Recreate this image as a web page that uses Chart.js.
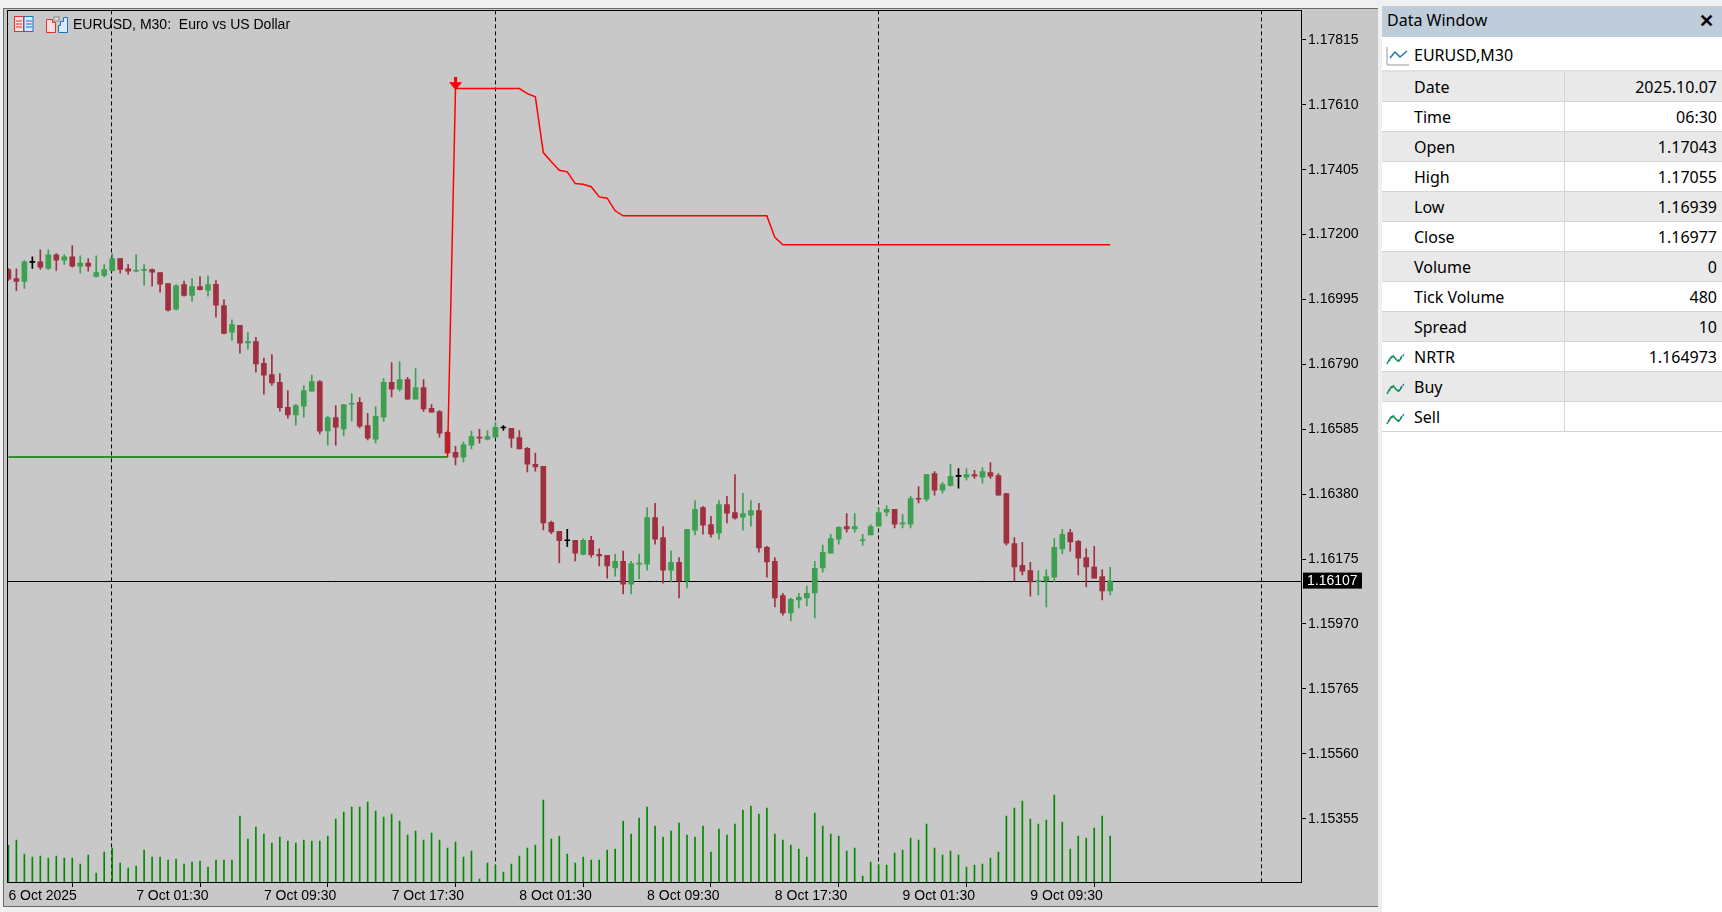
<!DOCTYPE html>
<html><head><meta charset="utf-8">
<script src="https://cdn.jsdelivr.net/npm/chart.js@4"></script>
<style>
html,body{margin:0;padding:0;background:#f0f0f0;width:1722px;height:912px;overflow:hidden;font-family:"Liberation Sans",Arial,sans-serif}
#c{position:absolute;left:0;top:0}
#title{position:absolute;left:73px;top:16px;font-size:14px;color:#000;white-space:pre}
.ic{position:absolute;top:16px;height:16px}
#dw{position:absolute;left:1382px;top:6px;width:340px;height:906px;background:#fff;font-family:"Noto Sans","Open Sans",sans-serif;font-size:16px;color:#000}
#dwh{height:31px;background:#bfcddb;line-height:29px;padding-left:5px;position:relative}
#dwh span{position:absolute;right:8px;top:0;font-weight:bold;font-size:18px}
.row{height:29px;line-height:31px;border-bottom:1px solid #d4d4d4;position:relative;background:#fff}
.row.g{background:#e9e9e9}
.row .l{position:absolute;left:32px}
.row .v{position:absolute;right:5px}
.row .d{position:absolute;left:182px;top:0;width:1px;height:30px;background:#d4d4d4}
.row svg{position:absolute;left:4px;top:7px}
</style></head><body>
<canvas id="c" width="1378" height="912"></canvas>
<div class="ic" style="left:14px;width:19px">
<svg width="20" height="17"><rect x="0.5" y="0.5" width="9" height="15" fill="#fbdede" stroke="#e03030"/><rect x="10" y="0.5" width="9" height="15" fill="#dbe8f8" stroke="#2070c0"/><line x1="2" y1="5" x2="8" y2="5" stroke="#e03030"/><line x1="2" y1="8" x2="8" y2="8" stroke="#e03030"/><line x1="2" y1="11" x2="8" y2="11" stroke="#e03030"/><line x1="12" y1="5" x2="18" y2="5" stroke="#2070c0"/><line x1="12" y1="8" x2="18" y2="8" stroke="#2070c0"/><line x1="12" y1="11" x2="18" y2="11" stroke="#2070c0"/></svg></div>
<div class="ic" style="left:46px;width:22px">
<svg width="23" height="17"><path d="M0.5 3.5 H6.5 V6.5 H9.5 V16.5 H0.5 Z" fill="#fbdede" stroke="#e03030"/><rect x="8" y="1" width="5" height="4" fill="#ddd" stroke="#888"/><path d="M14.5 5.5 H17.5 V1.5 H21.5 V16.5 H12.5 V9.5 H14.5 Z" fill="#dbe8f8" stroke="#2070c0"/></svg></div>
<div id="title">EURUSD, M30:  Euro vs US Dollar</div>
<div id="dw">
<div id="dwh">Data Window<span>✕</span></div>
<div class="row" style="border-bottom:2px solid #e0e0e0;height:31px;margin-top:2px;line-height:33px"><svg width="24" height="20"><polyline points="1,1 1,19 23,19" fill="none" stroke="#999"/><polyline points="4,12 9,6 14,11 21,5" fill="none" stroke="#2070c0" stroke-width="1.5"/></svg><span class="l" style="left:32px">EURUSD,M30</span></div>
<div id="rows"></div>
</div>
<script>
// ---------- data ----------
const xTickIndex = [0,16,32,48,64,80,96,112,128];
const xTickLabels = ["6 Oct 2025","7 Oct 01:30","7 Oct 09:30","7 Oct 17:30","8 Oct 01:30","8 Oct 09:30","8 Oct 17:30","9 Oct 01:30","9 Oct 09:30"];
const yTickValues = [1.17815,1.17610,1.17405,1.17200,1.16995,1.16790,1.16585,1.16380,1.16175,1.15970,1.15765,1.15560,1.15355];
const daySeparators = [12.9,60.9,108.9,156.9];
const bidPrice = 1.16107;

const open = [1.17089,1.17061,1.17052,1.17112,1.17114,1.17093,1.17136,1.17119,1.17130,1.17100,1.17110,1.17068,1.17071,1.17086,1.17124,1.17092,1.17084,1.17087,1.17089,1.17080,1.17045,1.16964,1.17042,1.17008,1.17036,1.17024,1.17043,1.16976,1.16892,1.16913,1.16858,1.16862,1.16793,1.16758,1.16733,1.16654,1.16630,1.16658,1.16705,1.16736,1.16580,1.16622,1.16586,1.16664,1.16670,1.16597,1.16554,1.16623,1.16733,1.16712,1.16742,1.16680,1.16717,1.16651,1.16641,1.16575,1.16512,1.16497,1.16535,1.16559,1.16554,1.16560,1.16589,1.16588,1.16559,1.16525,1.16474,1.16468,1.16291,1.16263,1.16233,1.16234,1.16190,1.16234,1.16190,1.16187,1.16147,1.16168,1.16096,1.16159,1.16159,1.16306,1.16243,1.16140,1.16165,1.16107,1.16266,1.16338,1.16284,1.16257,1.16347,1.16322,1.16307,1.16314,1.16328,1.16212,1.16168,1.16060,1.16005,1.16046,1.16052,1.16068,1.16147,1.16194,1.16238,1.16278,1.16270,1.16233,1.16251,1.16279,1.16323,1.16332,1.16286,1.16285,1.16366,1.16364,1.16445,1.16393,1.16408,1.16436,1.16434,1.16442,1.16434,1.16448,1.16439,1.16382,1.16224,1.16155,1.16139,1.16104,1.16106,1.16118,1.16207,1.16259,1.16231,1.16180,1.16150,1.16120,1.16074];
const high = [1.17093,1.17092,1.17118,1.17130,1.17152,1.17152,1.17140,1.17137,1.17165,1.17133,1.17124,1.17133,1.17105,1.17139,1.17124,1.17105,1.17137,1.17105,1.17092,1.17080,1.17045,1.17042,1.17053,1.17061,1.17067,1.17070,1.17055,1.16995,1.16931,1.16913,1.16890,1.16875,1.16810,1.16821,1.16761,1.16707,1.16664,1.16723,1.16756,1.16739,1.16627,1.16660,1.16663,1.16698,1.16685,1.16635,1.16657,1.16745,1.16796,1.16799,1.16749,1.16777,1.16742,1.16663,1.16644,1.16579,1.16531,1.16545,1.16579,1.16585,1.16581,1.16607,1.16597,1.16588,1.16581,1.16528,1.16510,1.16468,1.16295,1.16263,1.16269,1.16234,1.16239,1.16247,1.16207,1.16187,1.16191,1.16200,1.16168,1.16191,1.16338,1.16351,1.16278,1.16200,1.16180,1.16269,1.16360,1.16341,1.16310,1.16360,1.16373,1.16442,1.16383,1.16360,1.16351,1.16215,1.16180,1.16067,1.16052,1.16067,1.16090,1.16168,1.16219,1.16253,1.16278,1.16319,1.16319,1.16253,1.16284,1.16336,1.16344,1.16332,1.16316,1.16373,1.16404,1.16442,1.16451,1.16417,1.16474,1.16461,1.16461,1.16455,1.16464,1.16480,1.16445,1.16382,1.16243,1.16228,1.16165,1.16139,1.16142,1.16240,1.16269,1.16269,1.16234,1.16207,1.16215,1.16142,1.16149];
const low = [1.17055,1.17023,1.17030,1.17093,1.17090,1.17090,1.17087,1.17106,1.17097,1.17078,1.17084,1.17065,1.17066,1.17084,1.17078,1.17075,1.17082,1.17040,1.17037,1.17018,1.16958,1.16961,1.17005,1.16989,1.17024,1.17005,1.16939,1.16886,1.16866,1.16825,1.16838,1.16765,1.16696,1.16724,1.16642,1.16620,1.16598,1.16623,1.16705,1.16570,1.16535,1.16535,1.16564,1.16611,1.16589,1.16551,1.16541,1.16610,1.16687,1.16705,1.16680,1.16680,1.16641,1.16639,1.16560,1.16507,1.16472,1.16482,1.16523,1.16541,1.16551,1.16559,1.16581,1.16528,1.16523,1.16450,1.16453,1.16267,1.16255,1.16163,1.16214,1.16169,1.16188,1.16181,1.16153,1.16115,1.16121,1.16065,1.16065,1.16112,1.16140,1.16222,1.16099,1.16103,1.16052,1.16084,1.16251,1.16254,1.16244,1.16238,1.16289,1.16301,1.16266,1.16279,1.16197,1.16118,1.16024,1.15998,1.15980,1.16021,1.16027,1.15989,1.16134,1.16194,1.16222,1.16260,1.16260,1.16219,1.16251,1.16279,1.16311,1.16273,1.16273,1.16273,1.16352,1.16358,1.16377,1.16383,1.16405,1.16399,1.16424,1.16430,1.16415,1.16430,1.16377,1.16219,1.16107,1.16125,1.16058,1.16062,1.16024,1.16103,1.16191,1.16200,1.16125,1.16087,1.16115,1.16046,1.16062];
const close = [1.17059,1.17052,1.17114,1.17112,1.17097,1.17136,1.17119,1.17130,1.17100,1.17110,1.17100,1.17080,1.17089,1.17124,1.17090,1.17084,1.17086,1.17088,1.17081,1.17043,1.16961,1.17038,1.17008,1.17036,1.17026,1.17042,1.16977,1.16888,1.16916,1.16857,1.16862,1.16791,1.16756,1.16731,1.16653,1.16630,1.16660,1.16707,1.16736,1.16579,1.16622,1.16592,1.16663,1.16667,1.16595,1.16557,1.16626,1.16733,1.16712,1.16742,1.16680,1.16717,1.16649,1.16639,1.16573,1.16510,1.16497,1.16537,1.16562,1.16557,1.16562,1.16591,1.16589,1.16557,1.16523,1.16475,1.16466,1.16289,1.16261,1.16233,1.16233,1.16194,1.16234,1.16188,1.16185,1.16153,1.16168,1.16096,1.16161,1.16160,1.16306,1.16238,1.16140,1.16165,1.16107,1.16269,1.16332,1.16282,1.16254,1.16347,1.16320,1.16304,1.16319,1.16328,1.16210,1.16166,1.16052,1.16005,1.16048,1.16054,1.16067,1.16146,1.16196,1.16240,1.16275,1.16270,1.16278,1.16234,1.16278,1.16322,1.16332,1.16285,1.16289,1.16366,1.16364,1.16442,1.16393,1.16410,1.16436,1.16436,1.16442,1.16437,1.16451,1.16437,1.16377,1.16225,1.16150,1.16137,1.16103,1.16106,1.16120,1.16212,1.16253,1.16229,1.16178,1.16150,1.16115,1.16074,1.16106];
const tickVolume = [800,916,611,545,567,523,567,523,523,393,589,196,654,742,414,305,349,698,545,545,480,502,393,436,458,327,480,480,480,1439,938,1200,1047,851,981,894,851,916,894,894,1003,1374,1527,1636,1636,1745,1549,1418,1483,1330,1025,1112,916,1069,916,742,872,545,676,65,414,364,218,393,567,742,807,1788,938,1003,611,414,545,480,480,698,720,1330,1047,1396,1636,1221,981,1112,1287,1025,981,1221,654,1156,1025,1265,1570,1658,1483,1614,1047,916,807,720,545,1505,1221,1047,1003,676,742,131,436,371,371,632,698,960,916,1265,742,589,676,589,327,371,393,523,654,1439,1614,1767,1374,1265,1352,1897,1309,720,1003,960,1178,1439,1003];
const nrtrBuy = [1.16497,1.16497,1.16497,1.16497,1.16497,1.16497,1.16497,1.16497,1.16497,1.16497,1.16497,1.16497,1.16497,1.16497,1.16497,1.16497,1.16497,1.16497,1.16497,1.16497,1.16497,1.16497,1.16497,1.16497,1.16497,1.16497,1.16497,1.16497,1.16497,1.16497,1.16497,1.16497,1.16497,1.16497,1.16497,1.16497,1.16497,1.16497,1.16497,1.16497,1.16497,1.16497,1.16497,1.16497,1.16497,1.16497,1.16497,1.16497,1.16497,1.16497,1.16497,1.16497,1.16497,1.16497,1.16497,1.16497];
const nrtrSellStart = 55;
const nrtrSell = [1.16497,1.17661,1.17661,1.17661,1.17661,1.17661,1.17661,1.17661,1.17661,1.17661,1.17645,1.17635,1.17459,1.17430,1.17403,1.17398,1.17361,1.17359,1.17351,1.17319,1.17315,1.17275,1.17259,1.17259,1.17259,1.17259,1.17259,1.17259,1.17259,1.17259,1.17259,1.17259,1.17259,1.17259,1.17259,1.17259,1.17259,1.17259,1.17259,1.17259,1.17259,1.17191,1.17168,1.17168,1.17168,1.17168,1.17168,1.17168,1.17168,1.17168,1.17168,1.17168,1.17168,1.17168,1.17168,1.17168,1.17168,1.17168,1.17168,1.17168,1.17168,1.17168,1.17168,1.17168,1.17168,1.17168,1.17168,1.17168,1.17168,1.17168,1.17168,1.17168,1.17168,1.17168,1.17168,1.17168,1.17168,1.17168,1.17168,1.17168,1.17168,1.17168,1.17168,1.17168];
const sellSignalBar = [56];
const sellSignalPrice = [1.17675];

const dwLabels = ["Date","Time","Open","High","Low","Close","Volume","Tick Volume","Spread","NRTR","Buy","Sell"];
const dwValues = ["2025.10.07","06:30","1.17043","1.17055","1.16939","1.16977","0","480","10","1.164973","",""];

// ---------- data window ----------
const rowsEl=document.getElementById('rows');
const ind='<svg width="22" height="18"><path d="M1 15 C4 9,6 5,9 9 S13 14,16 7" fill="none" stroke="#1a9a3a" stroke-width="1.6"/><path d="M3 12 L8 6 M12 12 L19 4" fill="none" stroke="#2070c0" stroke-width="1.3" stroke-dasharray="2 1.5"/></svg>';
dwLabels.forEach((l,k)=>{
  const d=document.createElement('div');
  d.className='row'+(k%2===0?' g':'');
  d.innerHTML=(k>=9?ind:'')+'<span class="l">'+l+'</span><div class="d"></div><span class="v">'+dwValues[k]+'</span>';
  rowsEl.appendChild(d);
});

// ---------- chart ----------
const UP='#3ca050', DN='#a0303f', DOJI='#000000';
const idx=open.map((_,i)=>i);
const col=i=> close[i]>open[i]?UP:(close[i]<open[i]?DN:DOJI);

const arrow=document.createElement('canvas');arrow.width=13;arrow.height=14;
(function(){const g=arrow.getContext('2d');g.fillStyle='#ff0000';g.fillRect(5,0,3,8);g.beginPath();g.moveTo(0,5);g.lineTo(13,5);g.lineTo(6.5,13);g.closePath();g.fill();})();

const bg={id:'bg',beforeDraw(c){const g=c.ctx;g.save();g.fillStyle='#f0f0f0';g.fillRect(0,0,c.width,c.height);
 g.fillStyle='#c8c8c8';g.fillRect(4,8,1374,898);
 g.strokeStyle='#6a6a6a';g.lineWidth=1;g.strokeRect(3.5,8.5,1380,898);g.restore();},
 beforeDatasetsDraw(c){const g=c.ctx,a=c.chartArea,x=c.scales.x,y=c.scales.y;g.save();
 g.strokeStyle='#000';g.lineWidth=1;g.setLineDash([4,3]);
 daySeparators.forEach(d=>{const px=Math.round(x.getPixelForValue(d))+0.5;if(px>a.left&&px<a.right){g.beginPath();g.moveTo(px,a.top);g.lineTo(px,a.bottom);g.stroke();}});
 g.setLineDash([]);const py=Math.round(y.getPixelForValue(bidPrice))+0.5;g.beginPath();g.moveTo(a.left,py);g.lineTo(a.right,py);g.stroke();g.restore();},
 afterDraw(c){const g=c.ctx,a=c.chartArea,y=c.scales.y;g.save();g.strokeStyle='#000';g.lineWidth=1;
 g.strokeRect(Math.round(a.left)-0.5,Math.round(a.top)+0.5,Math.round(a.right-a.left)+1,Math.round(a.bottom-a.top));
 const py=y.getPixelForValue(bidPrice);g.fillStyle='#000';g.fillRect(a.right+2,py-8,59,16);
 g.fillStyle='#fff';g.font='14px "Liberation Sans"';g.textBaseline='middle';g.fillText(bidPrice.toFixed(5),a.right+6,py+0.5);g.restore();}};

new Chart(document.getElementById('c'),{
 type:'bar',
 data:{datasets:[
  {type:'line',label:'sellArrow',data:sellSignalBar.map((b,k)=>({x:b,y:sellSignalPrice[k]})),pointStyle:arrow,pointRadius:7,showLine:false,order:0},
  {type:'line',label:'NRTR buy',data:nrtrBuy.map((v,i)=>({x:i,y:v})),borderColor:'#007800',borderWidth:1.5,pointRadius:0,order:1},
  {type:'line',label:'NRTR sell',data:nrtrSell.map((v,k)=>({x:nrtrSellStart+k,y:v})),borderColor:'#ff0000',borderWidth:1.5,pointRadius:0,order:1},
  {label:'body',data:idx.map(i=>({x:i,y:[open[i],close[i]]})),backgroundColor:idx.map(col),barThickness:5,minBarLength:1,grouped:false,order:2},
  {label:'wick',data:idx.map(i=>({x:i,y:[low[i],high[i]]})),backgroundColor:idx.map(col),barThickness:1,grouped:false,order:3},
  {label:'vol',data:idx.map(i=>({x:i,y:tickVolume[i]})),backgroundColor:'#008a00',barThickness:1,grouped:false,yAxisID:'v',order:4}
 ]},
 options:{responsive:false,animation:false,devicePixelRatio:1,
  layout:{padding:{left:5,top:9,right:0,bottom:0}},
  plugins:{legend:{display:false},tooltip:{enabled:false}},
  scales:{
   x:{type:'linear',offset:false,min:-0.05,max:161.9,
     afterBuildTicks(ax){ax.ticks=xTickIndex.map(v=>({value:v}));},
     afterFit(ax){ax.height=30;},
     ticks:{autoSkip:false,maxRotation:0,align:'start',padding:1,color:'#000',font:{family:'Liberation Sans',size:14},callback:(v)=>xTickLabels[xTickIndex.indexOf(v)]},
     grid:{drawOnChartArea:false,drawTicks:true,tickLength:5,color:'#000'},border:{display:true,color:'#000'}},
   y:{position:'right',min:1.15155,max:1.17908,
     afterBuildTicks(ax){ax.ticks=yTickValues.map(v=>({value:v}));},
     afterFit(ax){ax.width=77;},
     ticks:{padding:2,color:'#000',font:{family:'Liberation Sans',size:14},callback:v=>Number(v).toFixed(5)},
     grid:{drawOnChartArea:false,drawTicks:true,tickLength:5,color:'#000'},border:{display:true,color:'#000'}},
   v:{display:false,min:0,max:19030}
  }},
 plugins:[bg]
});
</script>
</body></html>
